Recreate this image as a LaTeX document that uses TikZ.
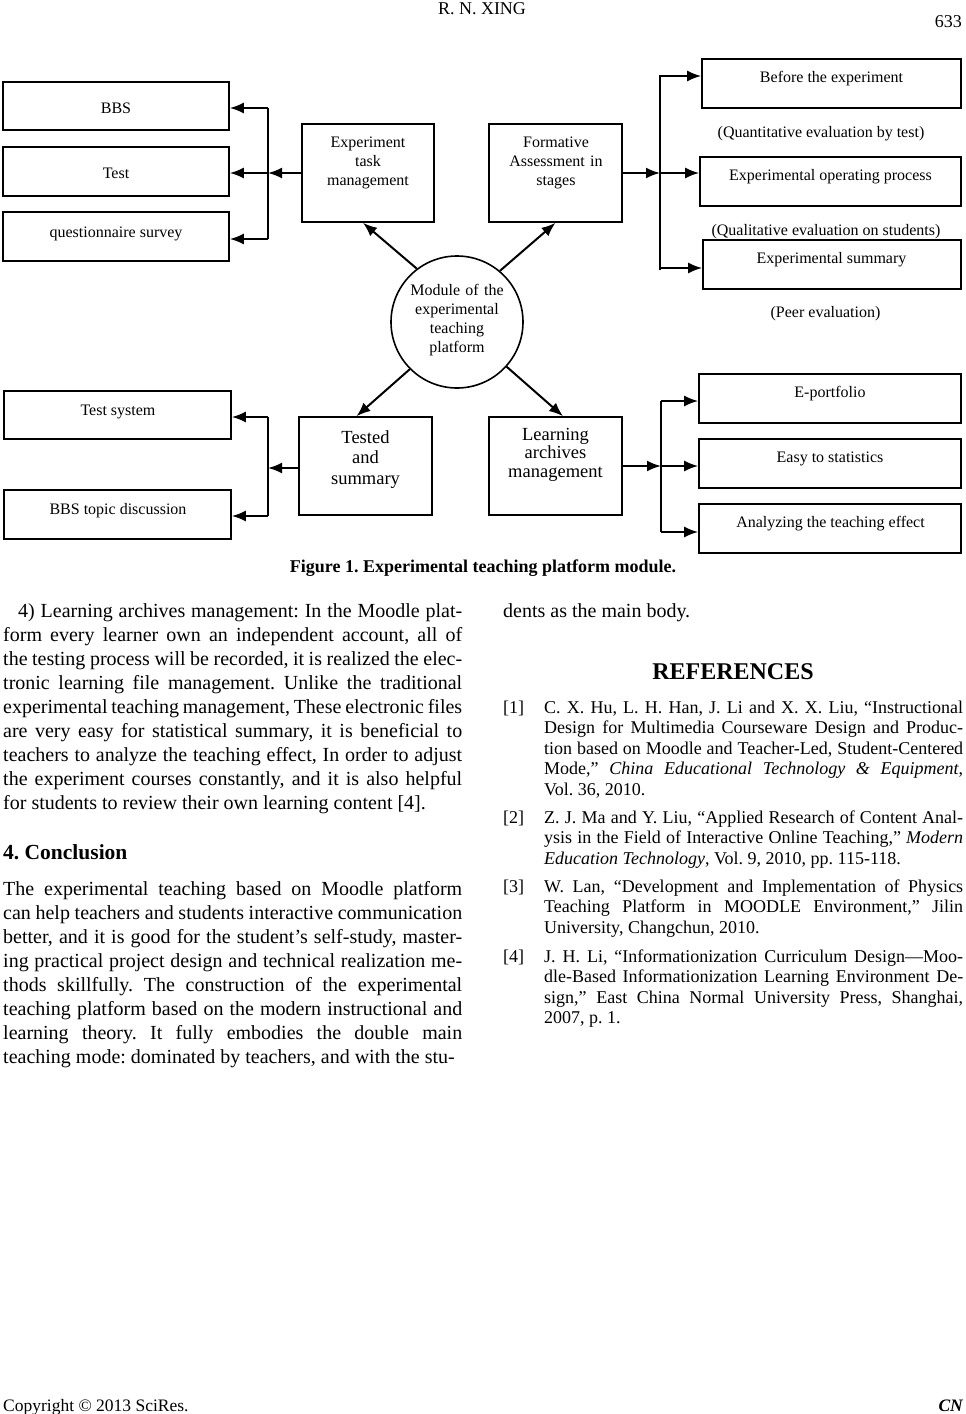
\documentclass[tikz,border=0pt]{standalone}
\usepackage{fontspec}
\setmainfont{Liberation Serif}
\usetikzlibrary{arrows.meta}
\hyphenpenalty=10000
\exhyphenpenalty=10000
\tolerance=9999
\hbadness=10000
\hfuzz=20pt
\frenchspacing
\begin{document}
\frenchspacing
\begin{tikzpicture}[x=1pt,y=-1pt,
  box/.style={draw, line width=1.6pt, rectangle, inner sep=0pt},
  lab/.style={font=\fontsize{16}{19}\selectfont, inner sep=0pt, anchor=base},
  mlab/.style={lab, text width=130pt, align=center},
  big/.style={font=\fontsize{18.5}{20.5}\selectfont, inner sep=0pt, anchor=base, text width=130pt, align=center},
  arr/.style={line width=2pt, -{Latex[length=14pt,width=11pt]}},
  ln/.style={line width=2pt},
  body/.style={font=\fontsize{20}{24}\selectfont\frenchspacing, inner sep=0pt, anchor=base west, align=justify},
  refs/.style={font=\fontsize{18}{20.5}\selectfont\frenchspacing, inner sep=0pt, anchor=base west, align=justify, text width=419pt},
  reflab/.style={font=\fontsize{18}{20.5}\selectfont, inner sep=0pt, anchor=base west}
]
\useasboundingbox (0,0) rectangle (966,1414);

% header / footer
\node[font=\fontsize{18}{21}\selectfont, inner sep=0pt, anchor=base] (hdr) at (482,14) {R. N. XING};
\node[font=\fontsize{18}{21}\selectfont, inner sep=0pt, anchor=base east] (pgn) at (962,27) {633};
\node[font=\fontsize{17.5}{21}\selectfont, inner sep=0pt, anchor=base west] (copy) at (3,1411) {Copyright © 2013 SciRes.};
\node[font=\fontsize{17.5}{21}\selectfont\bfseries\itshape, inner sep=0pt, anchor=base east] (cn) at (963,1411) {CN};

% ---------- diagram boxes ----------
\node[box, minimum width=226pt, minimum height=48pt] (bbs) at (116,106) {};
\node[box, minimum width=226pt, minimum height=49pt] (test) at (116,171.5) {};
\node[box, minimum width=226pt, minimum height=49pt] (quest) at (116,236.5) {};
\node[box, minimum width=227pt, minimum height=48pt] (tsys) at (117.5,415) {};
\node[box, minimum width=227pt, minimum height=49pt] (bbstd) at (117.5,514.5) {};

\node[box, minimum width=132pt, minimum height=98pt] (etm) at (368,173) {};
\node[box, minimum width=133pt, minimum height=98pt] (form) at (555.5,173) {};
\node[box, minimum width=133pt, minimum height=98pt] (tested) at (365.5,466) {};
\node[box, minimum width=133pt, minimum height=98pt] (learn) at (555.5,466) {};

\node[box, minimum width=259pt, minimum height=49pt] (before) at (831.5,83.5) {};
\node[box, minimum width=261pt, minimum height=49pt] (oper) at (830.5,181.5) {};
\node[box, minimum width=258pt, minimum height=49pt] (summ) at (832,264.5) {};
\node[box, minimum width=262pt, minimum height=49pt] (eport) at (830,398.5) {};
\node[box, minimum width=262pt, minimum height=49pt] (easy) at (830,463.5) {};
\node[box, minimum width=262pt, minimum height=49pt] (analyz) at (830,528.5) {};

\node[draw, circle, line width=1.6pt, minimum size=132pt, inner sep=0pt] (mod) at (457,322) {};

% ---------- labels ----------
\node[lab] (bbs-t) at (116,113) {BBS};
\node[lab] (test-t) at (116,178) {Test};
\node[lab] (quest-t) at (116,237) {questionnaire survey};
\node[lab] (tsys-t) at (118,415) {Test system};
\node[lab] (bbstd-t) at (118,514) {BBS topic discussion};
\node[mlab] (etm-t) at (368,147) {Experiment\\task\\management};
\node[mlab] (form-t) at (556,147) {Formative\\Assessment in\\stages};
\node[mlab] (mod-t) at (457,295) {Module of the\\experimental\\teaching\\platform};
\node[big] (tested-t) at (365.5,443) {Tested\\and\\summary};
\node[big, font=\fontsize{18.5}{18.5}\selectfont] (learn-t) at (555.5,440) {Learning\\archives\\management};
\node[lab] (before-t) at (831.5,82) {Before the experiment};
\node[lab] (quant-t) at (821,137) {(Quantitative evaluation by test)};
\node[lab] (oper-t) at (830.5,180) {Experimental operating process};
\node[lab] (qual-t) at (826,235) {(Qualitative evaluation on students)};
\node[lab] (summ-t) at (831.5,263) {Experimental summary};
\node[lab] (peer-t) at (825.5,317) {(Peer evaluation)};
\node[lab] (eport-t) at (830,397) {E-portfolio};
\node[lab] (easy-t) at (830,462) {Easy to statistics};
\node[lab] (analyz-t) at (830.5,527) {Analyzing the teaching effect};

% ---------- connectors ----------
% top-left bracket
\coordinate (tl1) at (268,108);
\coordinate (tlm) at (268,173);
\coordinate (tl3) at (268,239);
\draw[ln] (tl1) -- (tl3);
\draw[arr] (etm.west) -- (tlm);
\draw[arr] (tl1) -- (bbs.east |- tl1);
\draw[arr] (tlm) -- (test.east |- tlm);
\draw[arr] (tl3) -- (quest.east |- tl3);

% top-right bracket
\coordinate (tr1) at (660,76);
\coordinate (trm) at (660,173);
\coordinate (tr3) at (660,268);
\draw[ln] ([yshift=1pt]tr1) -- ([yshift=-2pt]tr3);
\draw[arr] (form.east) -- (trm);
\draw[arr] (tr1) -- (before.west |- tr1);
\draw[arr] (trm) -- (oper.west |- trm);
\draw[arr] (tr3) -- (summ.west |- tr3);

% bottom-left bracket
\coordinate (bl1) at (268,417);
\coordinate (blm) at (268,468);
\coordinate (bl3) at (268,516);
\draw[ln] (bl1) -- (bl3);
\draw[arr] (tested.west |- blm) -- (blm);
\draw[arr] (bl1) -- (tsys.east |- bl1);
\draw[arr] (bl3) -- (bbstd.east |- bl3);

% bottom-right bracket
\coordinate (br1) at (661,401);
\coordinate (brm) at (661,466);
\coordinate (br3) at (661,532);
\draw[ln] (br1) -- (br3);
\draw[arr] (learn.east) -- (brm);
\draw[arr] (br1) -- (eport.west |- br1);
\draw[arr] (brm) -- (easy.west |- brm);
\draw[arr] (br3) -- (analyz.west |- br3);

% circle to modules
\draw[arr] (mod.127.6) -- ([xshift=-5pt]etm.south);
\draw[arr] (mod.50.4) -- (form.south);
\draw[arr] (mod.225.6) -- ([xshift=-9pt]tested.north);
\draw[arr] (mod.-42) -- ([xshift=7.5pt]learn.north);

% caption
\node[font=\fontsize{18}{21}\selectfont\bfseries\frenchspacing, inner sep=0pt, anchor=base] (cap) at (483,572) {Figure 1. Experimental teaching platform module.};

% ---------- body text ----------
\node[body, text width=459pt] (para4) at (3,617) {\hspace*{15pt}4) Learning archives management: In the Moodle plat-\linebreak
form every learner own an independent account, all of\linebreak
the testing process will be recorded, it is realized the elec-\linebreak
tronic learning file management. Unlike the traditional\linebreak
experimental teaching management, These electronic files\linebreak
are very easy for statistical summary, it is beneficial to\linebreak
teachers to analyze the teaching effect, In order to adjust\linebreak
the experiment courses constantly, and it is also helpful\linebreak
for students to review their own learning content [4].};

\node[font=\fontsize{21.5}{24}\selectfont\bfseries, inner sep=0pt, anchor=base west] (concl) at (3,859) {4. Conclusion};

\node[body, text width=459pt] (paraC) at (3,895) {The experimental teaching based on Moodle platform\linebreak
can help teachers and students interactive communication\linebreak
better, and it is good for the student’s self-study, master-\linebreak
ing practical project design and technical realization me-\linebreak
thods skillfully. The construction of the experimental\linebreak
teaching platform based on the modern instructional and\linebreak
learning theory. It fully embodies the double main\linebreak
teaching mode: dominated by teachers, and with the stu-};

\node[font=\fontsize{20}{24}\selectfont, inner sep=0pt, anchor=base west] (dents) at (503,617) {dents as the main body.};

\node[font=\fontsize{24}{28}\selectfont\bfseries, inner sep=0pt, anchor=base] (refh) at (733,679) {REFERENCES};

\node[reflab] (r1l) at (503,713) {[1]};
\node[refs] (r1) at (544,713) {C. X. Hu, L. H. Han, J. Li and X. X. Liu, “Instructional\linebreak
Design for Multimedia Courseware Design and Produc-\linebreak
tion based on Moodle and Teacher-Led, Student-Centered\linebreak
Mode,” \textit{China Educational Technology \& Equipment},\linebreak
Vol. 36, 2010.};

\node[reflab] (r2l) at (503,823) {[2]};
\node[refs] (r2) at (544,823) {Z. J. Ma and Y. Liu, “Applied Research of Content Anal-\linebreak
ysis in the Field of Interactive Online Teaching,” \textit{Modern}\linebreak
\textit{Education Technology}, Vol. 9, 2010, pp. 115-118.};

\node[reflab] (r3l) at (503,892) {[3]};
\node[refs] (r3) at (544,892) {W. Lan, “Development and Implementation of Physics\linebreak
Teaching Platform in MOODLE Environment,” Jilin\linebreak
University, Changchun, 2010.};

\node[reflab] (r4l) at (503,962) {[4]};
\node[refs] (r4) at (544,962) {J. H. Li, “Informationization Curriculum Design—Moo-\linebreak
dle-Based Informationization Learning Environment De-\linebreak
sign,” East China Normal University Press, Shanghai,\linebreak
2007, p. 1.};
\end{tikzpicture}
\end{document}
